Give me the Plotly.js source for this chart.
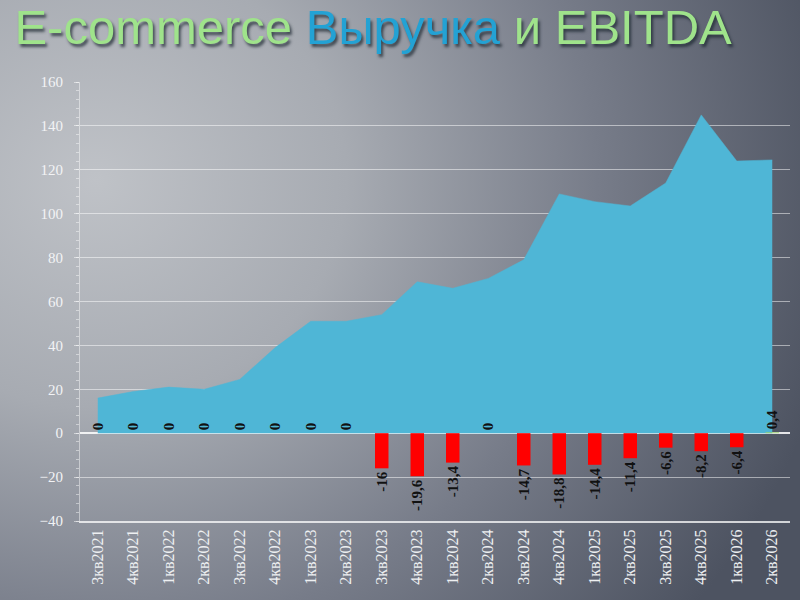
<!DOCTYPE html>
<html>
<head>
<meta charset="utf-8">
<script src="https://cdn.plot.ly/plotly-3.0.1.min.js"></script>
<style>
html,body{margin:0;padding:0;width:800px;height:600px;overflow:hidden;
background:radial-gradient(ellipse 95% 115% at 12% 30%, #bfc2c7 0%, #a7abb2 33%, #777c89 66%, #4d5361 100%);}
#chart{width:800px;height:600px;}
</style>
</head>
<body>
<div id="chart"></div>
<script>
const quarters = ["3кв2021","4кв2021","1кв2022","2кв2022","3кв2022","4кв2022","1кв2023","2кв2023","3кв2023","4кв2023","1кв2024","2кв2024","3кв2024","4кв2024","1кв2025","2кв2025","3кв2025","4кв2025","1кв2026","2кв2026"];
const revenue = [16, 19, 21, 20, 24.5, 39, 51, 51, 54, 69, 66, 70.5, 79, 109, 105.5, 103.5, 114, 145, 124, 124.5];
const ebitda = [0, 0, 0, 0, 0, 0, 0, 0, -16, -19.6, -13.4, 0, -14.7, -18.8, -14.4, -11.4, -6.6, -8.2, -6.4, 0.4];
const yTicks = [-40, -20, 0, 20, 40, 60, 80, 100, 120, 140, 160];

const ebitdaText = ebitda.map(v => String(v).replace('.', ','));
const barColors = ebitda.map(v => v < 0 ? '#ff0000' : '#9bd36a');

const traces = [
  {
    type: 'scatter', mode: 'lines', x: quarters, y: revenue,
    fill: 'tozeroy', fillcolor: '#4fb6d6',
    line: {color: '#4fb6d6', width: 0.5},
    showlegend: false
  },
  {
    type: 'bar', x: quarters, y: ebitda, width: 0.38,
    xaxis: 'x2', yaxis: 'y2',
    marker: {color: barColors},
    text: ebitdaText, textposition: 'outside', textangle: -90,
    constraintext: 'none', cliponaxis: false,
    textfont: {family: 'Liberation Serif', size: 15, color: '#111111', weight: 'bold'},
    showlegend: false
  }
];

const layout = {
  width: 800, height: 600,
  margin: {l: 80, r: 10, t: 82, b: 79},
  paper_bgcolor: 'rgba(0,0,0,0)',
  plot_bgcolor: 'rgba(0,0,0,0)',
  showlegend: false,
  title: {
    text: 'E-commerce <span style="color:#23a2d4">Выручка</span> и EBITDA',
    xref: 'container', yref: 'container',
    x: 0.018, xanchor: 'left', y: 0.955, yanchor: 'middle',
    font: {family: 'Liberation Sans', size: 49, color: '#9fe38b',
           shadow: '2px 3px 3px rgba(30,40,50,0.75)'}
  },
  xaxis: {
    type: 'category', range: [-0.5, 19.5],
    tickangle: -90,
    tickfont: {family: 'Liberation Serif', size: 16, color: '#eef0f2'},
    showgrid: false, zeroline: false,
    showline: true, linecolor: 'rgba(255,255,255,0.75)', linewidth: 2,
    ticks: '', fixedrange: true
  },
  yaxis: {
    range: [-40, 160], tickvals: yTicks,
    tickfont: {family: 'Liberation Serif', size: 15, color: '#f2f3f5'},
    showgrid: true, gridcolor: 'rgba(255,255,255,0.5)', gridwidth: 1,
    zeroline: true, zerolinecolor: 'rgba(255,255,255,0.85)', zerolinewidth: 2,
    showline: true, linecolor: 'rgba(255,255,255,0.45)', linewidth: 1,
    ticks: 'outside', ticklen: 5, tickcolor: 'rgba(255,255,255,0.5)',
    ticklabelstandoff: 8,
    minor: {dtick: 4, ticks: 'outside', ticklen: 3, tickcolor: 'rgba(255,255,255,0.45)', showgrid: false},
    fixedrange: true
  },
  xaxis2: {
    type: 'category', range: [-0.5, 19.5], overlaying: 'x', anchor: 'y2',
    visible: false, showgrid: false, zeroline: false, fixedrange: true
  },
  yaxis2: {
    range: [-40, 160], overlaying: 'y', anchor: 'x2',
    visible: false, showgrid: false, zeroline: false, fixedrange: true
  }
};

Plotly.newPlot('chart', traces, layout, {displayModeBar: false, staticPlot: true});
</script>
</body>
</html>
